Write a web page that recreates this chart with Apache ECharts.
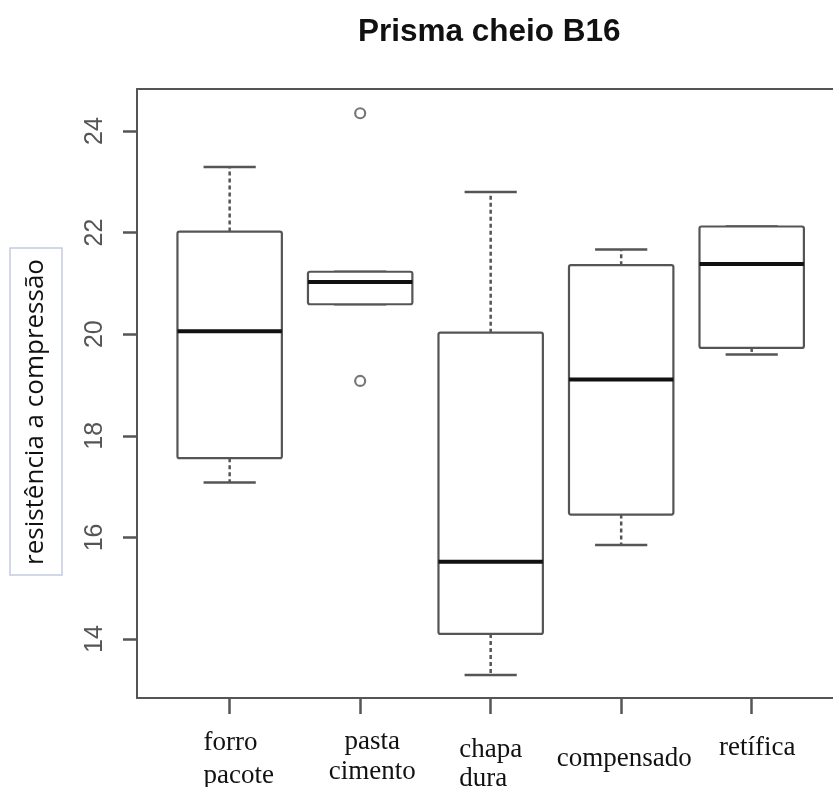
<!DOCTYPE html>
<html>
<head>
<meta charset="utf-8">
<script src="https://cdn.jsdelivr.net/npm/echarts@6/dist/echarts.min.js"></script>
<style>
html,body{margin:0;padding:0;background:#fff;}
#chart{width:833px;height:787px;}
</style>
</head>
<body>
<div id="chart"></div>
<script>
// Data
var categories = ['forro\npacote', 'pasta\ncimento', 'chapa\ndura', 'compensado', 'retífica'];
var whiskerLow  = [17.08, 20.59, 13.29, 15.85, 19.60];
var q1          = [17.56, 20.59, 14.10, 16.45, 19.73];
var medians     = [20.06, 21.03, 15.52, 19.11, 21.38];
var q3          = [22.02, 21.23, 20.03, 21.36, 22.12];
var whiskerHigh = [23.29, 21.23, 22.80, 21.67, 22.12];
var outliers    = [[2, 24.35], [2, 19.08]];
var yTicks = [14, 16, 18, 20, 22, 24];
var xTicks = [1, 2, 3, 4, 5];

var boxData = categories.map(function (c, i) {
  return [i + 1, whiskerLow[i], q1[i], medians[i], q3[i], whiskerHigh[i]];
});

var chart = echarts.init(document.getElementById('chart'));

function renderBox(params, api) {
  var x = api.value(0);
  var halfW = 0.4, capW = 0.2;
  var pLoW = api.coord([x, api.value(1)]);
  var pQ1L = api.coord([x - halfW, api.value(2)]);
  var pQ3R = api.coord([x + halfW, api.value(4)]);
  var pMedL = api.coord([x - halfW, api.value(3)]);
  var pMedR = api.coord([x + halfW, api.value(3)]);
  var pHiW = api.coord([x, api.value(5)]);
  var pQ1 = api.coord([x, api.value(2)]);
  var pQ3 = api.coord([x, api.value(4)]);
  var capL = api.coord([x - capW, 0])[0];
  var capR = api.coord([x + capW, 0])[0];
  var lineCol = '#555';
  var children = [];
  children.push({type: 'line', shape: {x1: pQ3[0], y1: pQ3[1], x2: pHiW[0], y2: pHiW[1]},
    style: {stroke: lineCol, lineWidth: 2.5, lineDash: [4, 3]}});
  children.push({type: 'line', shape: {x1: pQ1[0], y1: pQ1[1], x2: pLoW[0], y2: pLoW[1]},
    style: {stroke: lineCol, lineWidth: 2.5, lineDash: [4, 3]}});
  children.push({type: 'line', shape: {x1: capL, y1: pHiW[1], x2: capR, y2: pHiW[1]},
    style: {stroke: lineCol, lineWidth: 2.5}});
  children.push({type: 'line', shape: {x1: capL, y1: pLoW[1], x2: capR, y2: pLoW[1]},
    style: {stroke: lineCol, lineWidth: 2.5}});
  children.push({type: 'rect', shape: {x: pQ1L[0], y: pQ3R[1], width: pQ3R[0] - pQ1L[0], height: pQ1L[1] - pQ3R[1], r: 2},
    style: {fill: '#fff', stroke: lineCol, lineWidth: 2.2}});
  children.push({type: 'line', shape: {x1: pMedL[0], y1: pMedL[1], x2: pMedR[0], y2: pMedR[1]},
    style: {stroke: '#111', lineWidth: 4}});
  return {type: 'group', children: children};
}

var serif = {fontFamily: 'Liberation Serif', fontSize: 27, color: '#111'};
function rs(extra) { return Object.assign({}, serif, extra); }
var rich = {
  fpS: {fontSize: 1, lineHeight: 2},
  fp:  rs({align: 'left', lineHeight: 33, padding: [0, 0, 0, 18]}),
  pcS: {fontSize: 1, lineHeight: 3},
  pc:  rs({lineHeight: 30, padding: [0, 0, 0, 24]}),
  cdS: {fontSize: 1, lineHeight: 11},
  cd:  rs({align: 'left', lineHeight: 29}),
  cpS: {fontSize: 1, lineHeight: 19},
  cp:  rs({lineHeight: 31, padding: [0, 0, 0, 6]}),
  rtS: {fontSize: 1, lineHeight: 8},
  rt:  rs({lineHeight: 31, padding: [0, 0, 0, 11]})
};
var richKeys = [['fpS', 'fp'], ['pcS', 'pc'], ['cdS', 'cd'], ['cpS', 'cp'], ['rtS', 'rt']];

var xMin = 0.29, xMax = 5.623;

chart.setOption({
  animation: false,
  backgroundColor: '#fff',
  title: {
    text: 'Prisma cheio B16',
    left: 353, top: 11,
    textStyle: {fontFamily: 'Liberation Sans', fontWeight: 'bold', fontSize: 31.5, color: '#111'}
  },
  grid: {left: 137, top: 89, right: 0, bottom: 89, show: false, containLabel: false, outerBoundsMode: 'none'},
  xAxis: [{
    type: 'value', min: xMin, max: xMax,
    splitLine: {show: false},
    axisLine: {show: true, lineStyle: {color: '#555', width: 2}},
    axisTick: {show: true, length: 16, customValues: xTicks, lineStyle: {color: '#555', width: 2.5}},
    axisLabel: {
      show: true, margin: 26, customValues: xTicks,
      formatter: function (v) {
        var i = Math.round(v) - 1;
        var lines = categories[i].split('\n');
        var k = richKeys[i];
        var out = lines.map(function (l) { return '{' + k[1] + '|' + l + '}'; });
        out.unshift('{' + k[0] + '| }');
        return out.join('\n');
      },
      rich: rich
    }
  }, {
    type: 'value', min: xMin, max: xMax, position: 'top',
    splitLine: {show: false},
    axisLine: {show: true, lineStyle: {color: '#555', width: 2}},
    axisTick: {show: false}, axisLabel: {show: false}
  }],
  yAxis: {
    type: 'value', min: 12.839, max: 24.827,
    splitLine: {show: false},
    axisLine: {show: true, lineStyle: {color: '#555', width: 2}},
    axisTick: {show: true, length: 14, customValues: yTicks, lineStyle: {color: '#555', width: 2.5}},
    axisLabel: {
      show: true, customValues: yTicks, rotate: 90, margin: 29,
      fontFamily: 'Liberation Sans', fontSize: 25, color: '#555'
    }
  },
  graphic: [
    {type: 'rect', shape: {x: 10, y: 248, width: 52, height: 327},
      style: {fill: '#fff', stroke: '#c3cce0', lineWidth: 1.5}},
    {type: 'text', x: 36, y: 412, rotation: Math.PI / 2,
      style: {text: 'resistência a compressão', font: '26px "Open Sans"', fill: '#111', textAlign: 'center', textVerticalAlign: 'middle'}}
  ],
  series: [
    {type: 'custom', renderItem: renderBox, data: boxData, encode: {x: 0, y: [1, 2, 3, 4, 5]}, z: 2},
    {type: 'scatter', data: outliers, symbol: 'circle', symbolSize: 10,
      itemStyle: {color: '#fff', borderColor: '#555', borderWidth: 2.2}, z: 3}
  ]
});
</script>
</body>
</html>
